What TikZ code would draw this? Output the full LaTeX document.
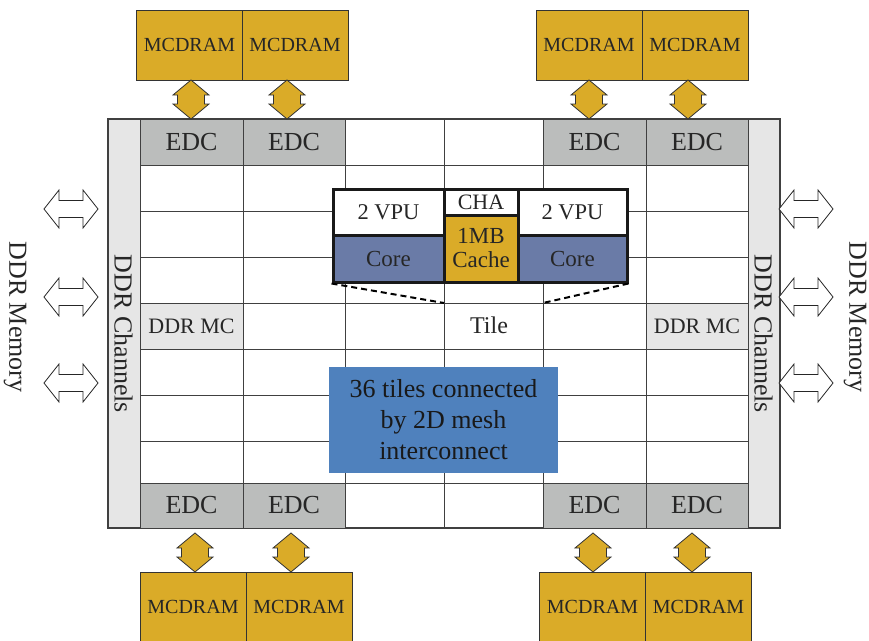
\documentclass[tikz,border=0pt]{standalone}
\usepackage{fontspec}
\setmainfont{Liberation Serif}
\usetikzlibrary{calc}
\definecolor{mcgold}{HTML}{DAAB28}
\definecolor{edcgray}{HTML}{BBBDBC}
\definecolor{chgray}{HTML}{E6E6E6}
\definecolor{coreblue}{HTML}{6A7BA7}
\definecolor{meshblue}{HTML}{4F81BD}
\definecolor{linegray}{HTML}{404040}
\newcommand{\fsz}[1]{\fontsize{#1}{#1}\selectfont}
\tikzset{
	mcdram/.style={draw=black!80,fill=mcgold,minimum width=106pt,minimum height=70pt,inner sep=0pt,font=\fsz{20},text=black!85},
	edc/.style={draw=linegray,fill=edcgray,minimum width=102.5pt,minimum height=46pt,inner sep=0pt,font=\fsz{26},text=black!85},
	ddrmc/.style={draw=linegray,fill=chgray,minimum width=102.5pt,minimum height=46pt,inner sep=0pt,font=\fsz{22},text=black!85},
	chbar/.style={draw=linegray,fill=chgray,minimum width=32pt,minimum height=409pt,inner sep=0pt},
	tilepart/.style={draw=black!90,line width=3pt,inner sep=0pt,font=\fsz{22.5},text=black!85},
	gridline/.style={draw=linegray,line width=0.9pt},
	sidelbl/.style={rotate=-90,font=\fsz{26},text=black!85,inner sep=0pt},
	pics/vbiarrow/.style={code={
		\filldraw[draw=black!80,fill=mcgold,line width=0.8pt] (0,-19.5) -- (18,-4.5) -- (13.5,-4.5) -- (13.5,4.5) -- (18,4.5) -- (0,19.5) -- (-18,4.5) -- (-13.5,4.5) -- (-13.5,-4.5) -- (-18,-4.5) -- cycle;}},
	pics/hbiarrow/.style={code={
		\filldraw[draw=black!85,fill=white,line width=0.8pt] (-27,0) -- (-12,-19) -- (-12,-8.5) -- (12,-8.5) -- (12,-19) -- (27,0) -- (12,19) -- (12,8.5) -- (-12,8.5) -- (-12,19) -- cycle;}},
}
\begin{document}
\begin{tikzpicture}[x=1pt,y=-1pt]
	\clip (0,0) rectangle (869,640);
	% MCDRAM stacks
	\node[mcdram] (mt1) at (189.5,45) {MCDRAM};
	\node[mcdram] (mt2) at (295,45) {MCDRAM};
	\node[mcdram] (mt3) at (589,45) {MCDRAM};
	\node[mcdram] (mt4) at (695,45) {MCDRAM};
	\node[mcdram] (mb1) at (193,607) {MCDRAM};
	\node[mcdram] (mb2) at (299,607) {MCDRAM};
	\node[mcdram] (mb3) at (592.5,607) {MCDRAM};
	\node[mcdram] (mb4) at (698.5,607) {MCDRAM};
	% channels and mesh
	\node[chbar] (lbar) at (124,323.5) {};
	\node[chbar] (rbar) at (764,323.5) {};
	\node[sidelbl] (lchan) at (123.5,334) {DDR Channels};
	\node[sidelbl] (rchan) at (763.5,334) {DDR Channels};
	\foreach \y in {165,211,257,303,349,395,441,483}
		\draw[gridline] (140,\y) -- (748,\y);
	\foreach \x in {243,345,444,543,646}
		\draw[gridline] (\x,119) -- (\x,528);
	\draw[draw=linegray,line width=1.2pt] (108,119) rectangle (780,528);
	% EDC and DDR MC cells
	\node[edc] (et1) at (191.5,142) {EDC};
	\node[edc] (et2) at (294,142) {EDC};
	\node[edc] (et3) at (594.5,142) {EDC};
	\node[edc] (et4) at (697,142) {EDC};
	\node[edc,minimum height=45pt] (eb1) at (191.5,505.5) {EDC};
	\node[edc,minimum height=45pt] (eb2) at (294,505.5) {EDC};
	\node[edc,minimum height=45pt] (eb3) at (594.5,505.5) {EDC};
	\node[edc,minimum height=45pt] (eb4) at (697,505.5) {EDC};
	\node[ddrmc] (mcl) at (191.5,326) {DDR MC};
	\node[ddrmc] (mcr) at (697,326) {DDR MC};
	% memory arrows
	\foreach \x in {191,287,589,688}
		\pic at (\x,99.5) {vbiarrow};
	\foreach \x in {195,291,593,692}
		\pic at (\x,552.5) {vbiarrow};
	\foreach \y in {209,297,383}{
		\pic at (71,\y) {hbiarrow};
		\pic at (806,\y) {hbiarrow};
	}
	\node[sidelbl] (lmem) at (15,317) {DDR Memory};
	\node[sidelbl] (rmem) at (855,317) {DDR Memory};
	% tile detail
	\node[tilepart,fill=white,minimum width=111pt,minimum height=46pt] (vpul) at (388.5,212) {2 VPU};
	\node[tilepart,fill=coreblue,minimum width=111pt,minimum height=47pt,font=\fsz{23}] (corel) at (388.5,258.5) {Core};
	\node[tilepart,fill=white,minimum width=74pt,minimum height=26pt,font=\fsz{22}] (cha) at (481,202) {CHA};
	\node[tilepart,fill=mcgold,minimum width=74pt,minimum height=67pt,align=center,font=\fontsize{23}{24}\selectfont] (cache) at (481,248.5) {1MB\\Cache};
	\node[tilepart,fill=white,minimum width=109pt,minimum height=46pt] (vpur) at (572.5,212) {2 VPU};
	\node[tilepart,fill=coreblue,minimum width=109pt,minimum height=47pt,font=\fsz{23}] (corer) at (572.5,258.5) {Core};
	\coordinate (tilenw) at (444,303);
	\coordinate (tilene) at (543,303);
	\node[font=\fsz{24},text=black!85] (tile) at (489,325) {Tile};
	\draw[line width=2pt,dash pattern=on 6pt off 4pt] (corel.south west) -- (tilenw);
	\draw[line width=2pt,dash pattern=on 6pt off 4pt] (corer.south east) -- (tilene);
	% mesh note
	\node[fill=meshblue,minimum width=229pt,minimum height=106pt,align=center,font=\fontsize{26}{31}\selectfont,text=black!90] (mesh) at (443.5,420) {36 tiles connected\\by 2D mesh\\interconnect};
\end{tikzpicture}
\end{document}
